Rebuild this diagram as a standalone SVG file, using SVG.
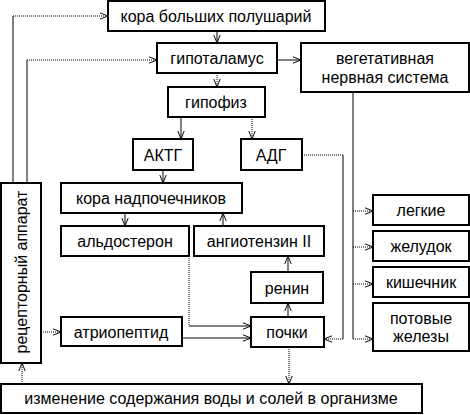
<svg xmlns="http://www.w3.org/2000/svg" width="470" height="415" viewBox="0 0 470 415">
<defs>
<marker id="a" viewBox="0 0 10 10" refX="10" refY="5" markerWidth="8" markerHeight="8" orient="auto" markerUnits="userSpaceOnUse">
<path d="M0,1 L10,5 L0,9" fill="none" stroke="#000" stroke-width="1.2"/>
</marker>
</defs>
<style>
.b{fill:#fff;stroke:#000;stroke-width:2}
text{font-family:"Liberation Sans",Arial,sans-serif;font-size:16px;fill:#000;text-anchor:middle}
.c{fill:none;stroke:#000;stroke-width:1}
.d{stroke-dasharray:1,1}
.m{marker-end:url(#a)}
</style>
<rect width="470" height="415" fill="#fff"/>
<g id="connectors">
<path class="c" d="M13,183 V16"/><path class="c d m" d="M13,16 H108"/>
<path class="c" d="M27,183 V60"/><path class="c d m" d="M27,60 H157"/>
<path class="c m" d="M217,31 V43"/>
<path class="c d m" d="M217,73 V87"/>
<path class="c m" d="M277,60 H301"/>
<path class="c m" d="M181,117 V139"/>
<path class="c d m" d="M252,117 V139"/>
<path class="c m" d="M163,170 V183"/>
<path class="c m" d="M125,213 V226"/>
<path class="c m" d="M223,226 V213"/>
<path class="c d" d="M302,155 H343"/><path class="c" d="M343,155 V339"/><path class="c d m" d="M343,339 H324"/>
<path class="c" d="M353,92 V339"/>
<path class="c d m" d="M353,211 H373"/>
<path class="c d m" d="M353,247 H373"/>
<path class="c d m" d="M353,284 H373"/>
<path class="c d m" d="M353,339 H373"/>
<path class="c d" d="M189,256 V326"/><path class="c m" d="M189,326 H251"/>
<path class="c m" d="M182,338 H251"/>
<path class="c m" d="M288,317 V303"/>
<path class="c m" d="M288,272 V256"/>
<path class="c d m" d="M289,347 V384"/>
<path class="c d m" d="M22,384 V363"/>
<path class="c d m" d="M41,332 H61"/>
</g>
<g id="kora"><rect class="b" x="108" y="1" width="217" height="30"/><text x="216" y="22">кора больших полушарий</text></g>
<g id="gipotalamus"><rect class="b" x="157" y="43" width="120" height="30"/><text x="217" y="64">гипоталамус</text></g>
<g id="vns"><rect class="b" x="301" y="43" width="168" height="49"/><text x="385" y="64">вегетативная</text><text x="385" y="83">нервная система</text></g>
<g id="gipofiz"><rect class="b" x="168" y="87" width="97" height="30"/><text x="216" y="108">гипофиз</text></g>
<g id="aktg"><rect class="b" x="133" y="139" width="60" height="31"/><text x="163" y="161">АКТГ</text></g>
<g id="adg"><rect class="b" x="241" y="139" width="61" height="31"/><text x="271" y="161">АДГ</text></g>
<g id="nadpoch"><rect class="b" x="61" y="183" width="181" height="30"/><text x="151" y="204">кора надпочечников</text></g>
<g id="aldosteron"><rect class="b" x="61" y="226" width="128" height="30"/><text x="125" y="247">альдостерон</text></g>
<g id="angiotenzin"><rect class="b" x="194" y="226" width="130" height="30"/><text x="259" y="247">ангиотензин II</text></g>
<g id="legkie"><rect class="b" x="373" y="195" width="96" height="30"/><text x="421" y="216">легкие</text></g>
<g id="zheludok"><rect class="b" x="373" y="231" width="96" height="30"/><text x="421" y="252">желудок</text></g>
<g id="kishechnik"><rect class="b" x="373" y="267" width="96" height="30"/><text x="421" y="288">кишечник</text></g>
<g id="potovye"><rect class="b" x="373" y="303" width="96" height="48"/><text x="421" y="324">потовые</text><text x="421" y="342">железы</text></g>
<g id="renin"><rect class="b" x="251" y="272" width="72" height="31"/><text x="287" y="294">ренин</text></g>
<g id="pochki"><rect class="b" x="251" y="317" width="73" height="30"/><text x="287" y="338">почки</text></g>
<g id="atriopeptid"><rect class="b" x="61" y="317" width="121" height="29"/><text x="121" y="338">атриопептид</text></g>
<g id="receptor"><rect class="b" x="1" y="183" width="40" height="180"/><text transform="translate(27,272) rotate(-90)">рецепторный аппарат</text></g>
<g id="izmenenie"><rect class="b" x="1" y="384" width="421" height="29"/><text x="211" y="404">изменение содержания воды и солей в организме</text></g>
</svg>
